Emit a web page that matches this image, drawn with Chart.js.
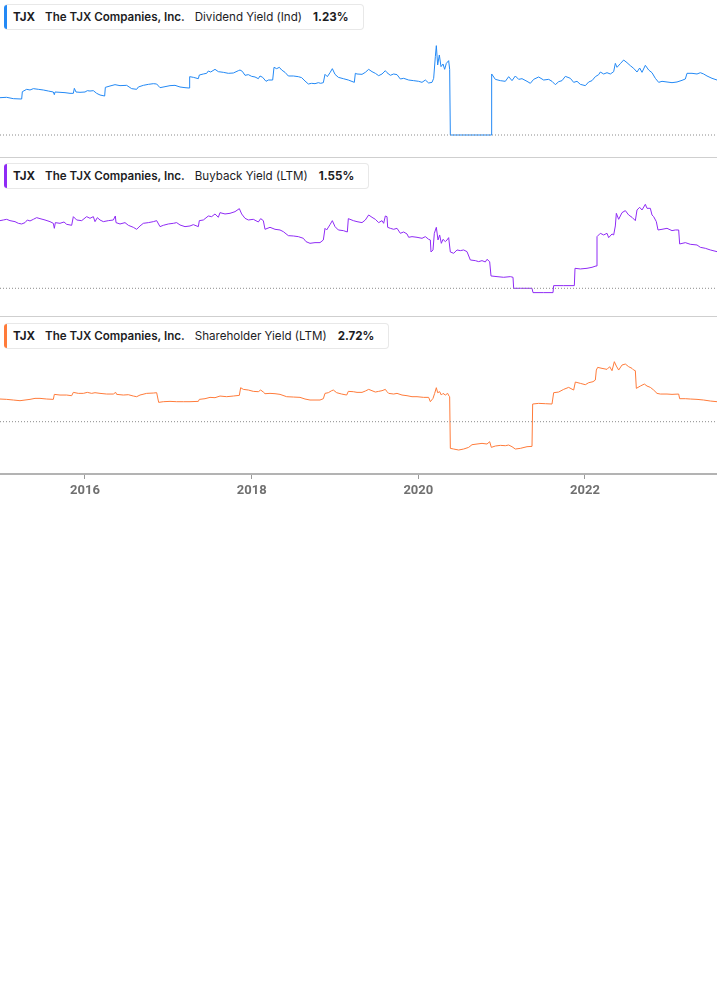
<!DOCTYPE html>
<html>
<head>
<meta charset="utf-8">
<script src="https://cdn.jsdelivr.net/npm/chart.js@4.4.1/dist/chart.umd.min.js"></script>
<style>
  html, body { margin:0; padding:0; background:#fff; }
  #wrap { position:relative; width:717px; height:1005px; overflow:hidden; }
  canvas { position:absolute; left:0; }
  .sep { position:absolute; left:0; width:717px; height:1px; background:#cfcfcf; z-index:2; }
  .leg { position:absolute; left:4px; height:26px; display:flex; align-items:center; box-sizing:border-box;
         border:1px solid #e8e8e8; border-left:none; border-radius:4px; background:#fff;
         font-family:Inter, "Noto Sans", sans-serif; font-size:11.6px; color:#1d1d1f; padding-right:14px; z-index:3; white-space:nowrap; }
  .leg .bar { width:3px; align-self:stretch; border-radius:3px 0 0 3px; margin-right:6px; }
  .leg .tk { font-weight:700; margin-right:10px; }
  .leg .co { font-weight:600; margin-right:10px; }
  .leg .me { font-weight:400; margin-right:11px; }
  .leg .va { font-weight:700; }
</style>
</head>
<body>
<div id="wrap">
  <canvas id="c1" width="717" height="157" style="top:0px"></canvas>
  <div class="sep" style="top:157px"></div>
  <canvas id="c2" width="717" height="159" style="top:157px"></canvas>
  <div class="sep" style="top:316px"></div>
  <canvas id="c3" width="717" height="189" style="top:316px"></canvas>
</div>
<script>
// ---------- DATA ----------
const ticker = 'TJX';
const company = 'The TJX Companies, Inc.';
const metricNames = ['Dividend Yield (Ind)', 'Buyback Yield (LTM)', 'Shareholder Yield (LTM)'];
const latestValues = ['1.23%', '1.55%', '2.72%'];
const seriesColors = ['#2389f5', '#8f2bf5', '#ff7b3a'];
const tickYears = [2016, 2018, 2020, 2022];
const tickLabels = ['2016', '2018', '2020', '2022'];
const X_MIN = 2014.98, X_MAX = 2023.584;

// Dividend Yield (Ind), %
const dividendDates = [
2014.98,2015.06,2015.14,2015.24,2015.248,2015.30,2015.34,2015.38,2015.44,2015.50,
2015.56,2015.62,2015.632,2015.64,2015.70,2015.76,2015.82,2015.86,2015.872,2015.892,
2015.94,2016.00,2016.028,2016.06,2016.10,2016.14,2016.18,2016.236,2016.244,2016.30,
2016.36,2016.42,2016.50,2016.56,2016.62,2016.64,2016.70,2016.76,2016.82,2016.86,
2016.90,2016.96,2017.02,2017.08,2017.14,2017.20,2017.248,2017.256,2017.30,2017.36,
2017.372,2017.42,2017.46,2017.48,2017.508,2017.56,2017.60,2017.66,2017.72,2017.78,
2017.84,2017.86,2017.888,2017.92,2017.96,2018.00,2018.04,2018.08,2018.10,2018.132,
2018.172,2018.20,2018.252,2018.268,2018.30,2018.332,2018.36,2018.40,2018.44,2018.50,
2018.56,2018.60,2018.64,2018.68,2018.72,2018.76,2018.80,2018.828,2018.86,2018.88,
2018.908,2018.94,2018.968,2019.00,2019.04,2019.10,2019.16,2019.232,2019.244,2019.264,
2019.324,2019.364,2019.404,2019.444,2019.484,2019.524,2019.564,2019.604,2019.624,2019.664,
2019.704,2019.744,2019.784,2019.824,2019.884,2019.944,2020.004,2020.044,2020.084,2020.124,
2020.164,2020.184,2020.204,2020.216,2020.232,2020.252,2020.272,2020.296,2020.316,2020.336,
2020.364,2020.376,2020.384,2020.872,2020.88,2020.924,2020.984,2021.044,2021.084,2021.124,
2021.164,2021.204,2021.244,2021.304,2021.344,2021.384,2021.444,2021.504,2021.564,2021.604,
2021.644,2021.684,2021.724,2021.764,2021.824,2021.864,2021.904,2021.944,2022.004,2022.044,
2022.084,2022.124,2022.164,2022.184,2022.224,2022.264,2022.304,2022.344,2022.364,2022.384,
2022.424,2022.464,2022.504,2022.544,2022.584,2022.624,2022.656,2022.684,2022.724,2022.764,
2022.804,2022.844,2022.884,2022.924,2022.984,2023.044,2023.104,2023.164,2023.204,2023.224,
2023.284,2023.344,2023.384,2023.424,2023.464,2023.524,2023.584];
const dividendYield = [
0.835,0.843,0.813,0.805,0.969,1.022,1.007,1.037,1.022,1.007,
0.984,0.962,0.902,0.962,0.955,0.947,0.932,0.932,1.044,0.962,
0.955,0.962,0.992,0.984,0.992,0.932,0.895,0.872,1.066,1.096,
1.126,1.104,1.111,1.037,1.022,1.074,1.111,1.133,1.148,1.141,
1.059,1.081,1.104,1.111,1.074,1.059,1.051,1.305,1.290,1.260,
1.342,1.365,1.380,1.432,1.409,1.469,1.417,1.402,1.380,1.387,
1.439,1.454,1.424,1.335,1.350,1.312,1.298,1.260,1.320,1.290,
1.201,1.230,1.230,1.514,1.484,1.514,1.454,1.402,1.320,1.320,
1.305,1.283,1.208,1.141,1.156,1.148,1.171,1.156,1.171,1.357,
1.305,1.394,1.484,1.357,1.290,1.260,1.230,1.178,1.380,1.365,
1.357,1.402,1.469,1.417,1.380,1.327,1.365,1.439,1.394,1.335,
1.365,1.350,1.253,1.268,1.230,1.216,1.201,1.178,1.230,1.163,
1.178,1.268,1.752,1.999,1.566,1.790,1.529,1.588,1.469,1.603,
1.663,1.469,0,0,1.365,1.245,1.216,1.201,1.305,1.216,
1.320,1.245,1.260,1.201,1.156,1.245,1.298,1.230,1.245,1.201,
1.126,1.193,1.216,1.312,1.268,1.178,1.201,1.133,1.104,1.186,
1.216,1.305,1.350,1.409,1.365,1.394,1.365,1.417,1.603,1.514,
1.596,1.678,1.618,1.551,1.491,1.409,1.499,1.402,1.559,1.454,
1.394,1.268,1.178,1.201,1.186,1.171,1.186,1.223,1.253,1.380,
1.380,1.365,1.394,1.365,1.320,1.268,1.230];

// Buyback Yield (LTM), %
const buybackDates = [
2014.98,2015.02,2015.06,2015.10,2015.16,2015.20,2015.24,2015.28,2015.308,2015.34,
2015.38,2015.42,2015.46,2015.52,2015.58,2015.62,2015.632,2015.644,2015.70,2015.748,
2015.78,2015.84,2015.86,2015.90,2015.96,2016.02,2016.06,2016.10,2016.12,2016.148,
2016.18,2016.22,2016.28,2016.34,2016.364,2016.372,2016.42,2016.48,2016.52,2016.58,
2016.62,2016.66,2016.70,2016.76,2016.82,2016.86,2016.90,2016.94,2017.00,2017.06,
2017.10,2017.14,2017.20,2017.26,2017.30,2017.36,2017.372,2017.42,2017.48,2017.52,
2017.56,2017.60,2017.62,2017.68,2017.74,2017.80,2017.852,2017.88,2017.92,2017.96,
2018.02,2018.08,2018.108,2018.14,2018.16,2018.22,2018.28,2018.34,2018.38,2018.44,
2018.50,2018.56,2018.62,2018.652,2018.70,2018.76,2018.82,2018.86,2018.88,2018.90,
2018.94,2018.968,2019.00,2019.04,2019.10,2019.148,2019.16,2019.22,2019.264,2019.324,
2019.364,2019.404,2019.444,2019.484,2019.524,2019.564,2019.584,2019.604,2019.624,2019.632,
2019.664,2019.704,2019.744,2019.784,2019.824,2019.864,2019.884,2019.924,2019.984,2020.044,
2020.084,2020.124,2020.144,2020.152,2020.176,2020.192,2020.216,2020.236,2020.256,2020.276,
2020.296,2020.324,2020.344,2020.364,2020.384,2020.424,2020.464,2020.504,2020.544,2020.584,
2020.624,2020.684,2020.724,2020.764,2020.804,2020.824,2020.856,2020.872,2020.944,2021.024,
2021.104,2021.136,2021.144,2021.224,2021.364,2021.376,2021.504,2021.616,2021.624,2021.744,
2021.872,2021.88,2021.944,2022.024,2022.084,2022.132,2022.144,2022.184,2022.224,2022.264,
2022.284,2022.324,2022.344,2022.364,2022.376,2022.404,2022.444,2022.484,2022.524,2022.564,
2022.604,2022.624,2022.656,2022.684,2022.724,2022.744,2022.784,2022.804,2022.824,2022.856,
2022.876,2022.924,2022.984,2023.044,2023.084,2023.124,2023.136,2023.204,2023.264,2023.344,
2023.384,2023.444,2023.504,2023.584];
const buybackYield = [
2.859,2.887,2.915,2.859,2.817,2.746,2.718,2.775,2.887,2.845,
2.915,2.986,2.944,2.887,2.817,2.746,2.535,2.775,2.746,2.803,
2.704,2.662,3.028,2.887,2.859,3.028,2.958,3.028,2.817,2.986,
2.887,2.817,2.859,2.887,3.056,2.775,2.718,2.775,2.662,2.577,
2.493,2.634,2.746,2.775,2.817,2.859,2.606,2.662,2.718,2.746,
2.775,2.676,2.606,2.634,2.690,2.606,2.859,2.887,3.056,3.028,
3.141,3.000,3.197,3.141,3.169,3.239,3.366,3.141,2.958,2.887,
2.915,2.803,2.944,2.859,2.493,2.577,2.493,2.465,2.394,2.225,
2.211,2.183,2.113,1.972,1.901,1.930,1.930,2.042,2.535,2.465,
2.690,2.859,2.606,2.465,2.437,2.380,2.944,2.859,2.817,2.775,
2.887,3.099,3.000,2.915,2.775,2.859,2.746,3.056,3.028,2.577,
2.535,2.493,2.535,2.324,2.380,2.296,2.155,2.183,2.155,2.113,
2.183,2.070,2.042,1.535,1.620,2.324,2.577,2.042,2.254,1.901,
2.070,1.972,2.042,2.141,1.535,1.479,1.620,1.592,1.620,1.549,
1.197,1.169,1.127,1.169,1.113,1.225,1.127,0.521,0.493,0.465,
0.493,0.465,0,0,0,-0.183,-0.183,-0.183,0.113,0.113,
0.113,0.845,0.817,0.845,0.887,0.944,2.183,2.324,2.254,2.324,
2.141,2.296,2.254,2.634,3.169,2.915,3.197,3.282,3.099,3.000,
2.859,3.310,3.423,3.310,3.549,3.380,3.380,3.099,3.028,2.817,
2.465,2.493,2.535,2.437,2.465,2.465,1.873,1.930,1.859,1.831,
1.732,1.690,1.620,1.549];

// Shareholder Yield (LTM), %
const shareholderDates = [
2014.98,2015.06,2015.14,2015.22,2015.28,2015.34,2015.40,2015.46,2015.54,2015.62,
2015.632,2015.70,2015.78,2015.84,2015.86,2015.92,2015.98,2016.028,2016.08,2016.12,
2016.18,2016.26,2016.34,2016.368,2016.38,2016.46,2016.52,2016.58,2016.62,2016.66,
2016.74,2016.82,2016.86,2016.884,2016.94,2017.02,2017.10,2017.18,2017.26,2017.36,
2017.372,2017.44,2017.50,2017.56,2017.62,2017.70,2017.78,2017.852,2017.868,2017.90,
2017.96,2018.02,2018.08,2018.108,2018.14,2018.16,2018.22,2018.28,2018.34,2018.42,
2018.50,2018.58,2018.64,2018.70,2018.76,2018.82,2018.86,2018.88,2018.92,2018.96,
2018.98,2019.02,2019.08,2019.14,2019.16,2019.22,2019.264,2019.324,2019.364,2019.404,
2019.444,2019.484,2019.524,2019.564,2019.604,2019.624,2019.644,2019.704,2019.744,2019.804,
2019.864,2019.924,2019.984,2020.064,2020.124,2020.144,2020.176,2020.196,2020.216,2020.232,
2020.256,2020.276,2020.296,2020.324,2020.352,2020.368,2020.376,2020.384,2020.424,2020.484,
2020.544,2020.604,2020.644,2020.704,2020.764,2020.824,2020.856,2020.876,2020.924,2020.984,
2021.044,2021.084,2021.124,2021.164,2021.224,2021.304,2021.364,2021.372,2021.444,2021.524,
2021.604,2021.624,2021.684,2021.744,2021.804,2021.864,2021.884,2021.944,2022.004,2022.044,
2022.096,2022.124,2022.136,2022.152,2022.204,2022.264,2022.296,2022.324,2022.352,2022.376,
2022.404,2022.444,2022.484,2022.524,2022.564,2022.584,2022.604,2022.616,2022.664,2022.712,
2022.744,2022.784,2022.824,2022.864,2022.904,2022.984,2023.044,2023.124,2023.136,2023.204,
2023.264,2023.344,2023.424,2023.504,2023.584];
const shareholderYield = [
3.083,3.037,2.947,2.856,2.947,3.037,3.173,3.173,3.083,3.037,
3.717,3.626,3.626,3.536,3.989,3.853,3.853,3.989,3.853,3.944,
3.853,3.762,3.762,3.989,3.717,3.626,3.672,3.490,3.400,3.626,
3.853,3.898,3.944,2.629,2.720,2.765,2.720,2.720,2.720,2.765,
3.037,3.128,3.309,3.264,3.490,3.400,3.490,3.581,4.624,4.397,
4.306,4.125,4.080,4.306,4.034,3.808,3.853,3.808,3.717,3.400,
3.354,3.309,3.083,2.947,2.947,2.947,3.128,3.853,3.944,4.216,
4.306,3.944,3.762,3.626,4.125,4.080,3.989,3.989,4.170,4.397,
4.216,4.034,4.125,4.216,4.397,4.080,3.853,3.762,3.853,3.626,
3.536,3.400,3.400,3.309,3.309,2.720,3.173,3.853,4.624,3.944,
4.080,3.626,3.853,3.626,3.853,3.490,3.400,-3.626,-3.717,-3.853,
-3.717,-3.490,-3.128,-3.037,-2.947,-3.037,-2.720,-3.490,-3.309,-3.218,
-3.264,-3.173,-3.400,-3.717,-3.626,-3.400,-3.354,2.403,2.493,2.448,
2.403,3.944,4.034,4.397,4.669,4.306,5.394,5.213,5.032,5.304,
5.440,5.666,7.026,7.389,7.253,7.117,7.480,6.936,8.160,7.570,
7.026,7.706,7.842,7.480,7.253,7.026,6.936,4.533,4.850,5.122,
4.850,4.669,4.306,3.853,3.762,3.762,3.717,3.762,3.128,3.128,
3.083,3.037,2.947,2.811,2.720];

// ---------- LEGENDS ----------
const legendTops = [4, 163, 323];
legendTops.forEach((top, i) => {
  const d = document.createElement('div');
  d.className = 'leg';
  d.style.top = top + 'px';
  const parts = [['bar',''],['tk',ticker],['co',company],['me',metricNames[i]],['va',latestValues[i]]];
  parts.forEach(([cls, txt]) => {
    const s = document.createElement('span');
    s.className = cls;
    s.textContent = txt;
    if (cls === 'bar') s.style.background = seriesColors[i];
    d.appendChild(s);
  });
  document.getElementById('wrap').appendChild(d);
});

// ---------- CHARTS ----------
function makeChart(id, dates, values, color, yMin, yMax, showX) {
  const pts = dates.map((d, i) => ({ x: d, y: values[i] }));
  const xScale = {
    type: 'linear', min: X_MIN, max: X_MAX, display: showX, offset: false,
    afterBuildTicks: s => { s.ticks = tickYears.map(v => ({ value: v })); },
    afterFit: s => { if (showX) s.height = 31; },
    border: { display: true, color: '#b3b3b3', width: 2 },
    grid: { drawOnChartArea: false, drawTicks: true, tickLength: 5, color: '#9a9a9a', lineWidth: 1 },
    ticks: {
      autoSkip: false, maxRotation: 0, padding: 4, color: '#707070',
      font: { family: 'Roboto', weight: 'bold', size: 13 },
      callback: v => tickLabels[tickYears.indexOf(v)]
    }
  };
  return new Chart(document.getElementById(id), {
    type: 'line',
    data: {
      datasets: [
        { data: [{ x: X_MIN, y: 0 }, { x: X_MAX, y: 0 }], borderColor: '#8a8a8a', borderWidth: 1,
          borderDash: [1, 2], pointRadius: 0, fill: false },
        { data: pts, borderColor: color, borderWidth: 1, pointRadius: 0, tension: 0, fill: false }
      ]
    },
    options: {
      responsive: false, animation: false, events: [],
      layout: { padding: 0 },
      plugins: { legend: { display: false }, tooltip: { enabled: false } },
      scales: {
        x: xScale,
        y: { min: yMin, max: yMax, display: false }
      }
    }
  });
}

makeChart('c1', dividendDates, dividendYield, seriesColors[0], -0.492, 3.020, false);
makeChart('c2', buybackDates, buybackYield, seriesColors[1], -1.171, 5.549, false);
makeChart('c3', shareholderDates, shareholderYield, seriesColors[2], -7.113, 14.375, true);
</script>
</body>
</html>
